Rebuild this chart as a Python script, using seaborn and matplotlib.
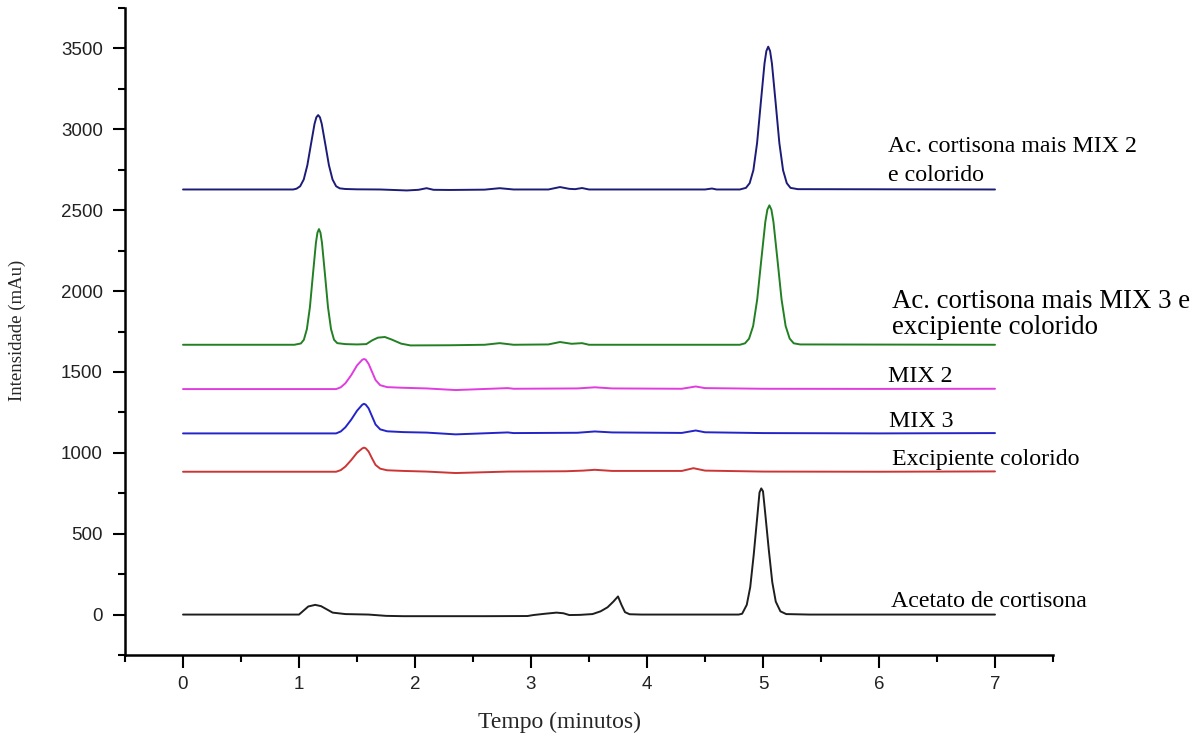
import numpy as np
import pandas as pd
import matplotlib
matplotlib.use("Agg")
import matplotlib.pyplot as plt
from matplotlib.ticker import MultipleLocator
import seaborn as sns

# ---------------- data ----------------
t_acetato = [0.00, 1.00, 1.04, 1.08, 1.14, 1.19, 1.24, 1.29, 1.40, 1.60, 1.75, 1.90, 2.20, 2.60, 2.97,
             3.02, 3.12, 3.22, 3.28, 3.33, 3.42, 3.53, 3.60, 3.66, 3.71, 3.75, 3.78, 3.81, 3.85, 3.95,
             4.40, 4.79, 4.82, 4.86, 4.89, 4.92, 4.95, 4.97, 4.985, 5.00, 5.02, 5.05, 5.08, 5.11, 5.15,
             5.20, 5.40, 7.00]
y_acetato = [0, 0, 25, 50, 60, 52, 32, 12, 3, 0, -8, -10, -10, -10, -9,
             -3, 5, 12, 8, -3, -2, 3, 20, 45, 80, 112, 60, 15, 2, 0,
             0, 0, 5, 60, 170, 370, 600, 755, 780, 762, 620, 400, 200, 80, 20,
             3, 0, 0]

t_excip = [0.00, 1.32, 1.36, 1.40, 1.45, 1.50, 1.545, 1.56, 1.575, 1.60, 1.63, 1.66, 1.70, 1.76, 1.90,
           2.10, 2.35, 2.50, 2.80, 3.30, 3.45, 3.55, 3.70, 4.30, 4.40, 4.50, 5.00, 6.00, 7.00]
y_excip = [883, 883, 893, 915, 955, 1000, 1027, 1032, 1028, 1008, 965, 925, 902, 892, 888,
           884, 875, 878, 884, 886, 890, 895, 888, 888, 905, 890, 884, 883, 885]

t_mix3 = [0.00, 1.32, 1.36, 1.40, 1.45, 1.50, 1.545, 1.56, 1.575, 1.60, 1.63, 1.66, 1.70, 1.76, 1.90,
          2.10, 2.35, 2.50, 2.80, 2.85, 3.40, 3.55, 3.70, 4.30, 4.42, 4.50, 5.00, 6.00, 7.00]
y_mix3 = [1120, 1120, 1132, 1158, 1205, 1260, 1297, 1303, 1298, 1275, 1225, 1175, 1145, 1133, 1128,
          1125, 1114, 1118, 1126, 1122, 1124, 1132, 1126, 1123, 1138, 1127, 1122, 1120, 1122]

t_mix2 = [0.00, 1.32, 1.36, 1.40, 1.45, 1.50, 1.545, 1.56, 1.575, 1.60, 1.63, 1.66, 1.70, 1.76, 1.90,
          2.10, 2.35, 2.50, 2.80, 2.85, 3.40, 3.55, 3.70, 4.30, 4.42, 4.50, 5.00, 6.00, 7.00]
y_mix2 = [1394, 1394, 1405, 1430, 1480, 1540, 1575, 1580, 1576, 1550, 1500, 1450, 1418, 1406, 1402,
          1398, 1388, 1392, 1400, 1396, 1398, 1405, 1398, 1396, 1410, 1400, 1396, 1395, 1396]

t_mix3_exc = [0.00, 0.96, 1.016, 1.042, 1.068, 1.094, 1.12, 1.146, 1.159, 1.172, 1.185, 1.198, 1.224,
              1.25, 1.276, 1.302, 1.33, 1.40, 1.50, 1.58, 1.63, 1.68, 1.74, 1.80, 1.88, 1.96, 2.30,
              2.60, 2.73, 2.85, 3.15, 3.25, 3.35, 3.44, 3.50, 4.80, 4.845, 4.88, 4.915, 4.95, 4.985,
              5.02, 5.0375, 5.055, 5.0725, 5.09, 5.125, 5.16, 5.195, 5.23, 5.265, 5.32, 7.00]
y_mix3_exc = [1668, 1668, 1676, 1699, 1765, 1900, 2102, 2299, 2361, 2383, 2361, 2299, 2102,
              1900, 1765, 1699, 1678, 1672, 1670, 1672, 1695, 1712, 1716, 1700, 1675, 1664, 1665,
              1668, 1678, 1668, 1670, 1685, 1674, 1678, 1668, 1668, 1677, 1706, 1784, 1948, 2191,
              2428, 2503, 2530, 2503, 2428, 2191, 1948, 1784, 1706, 1677, 1670, 1668]

t_mix2_col = [0.00, 0.95, 0.979, 1.01, 1.041, 1.072, 1.103, 1.134, 1.1495, 1.165, 1.1805, 1.196, 1.227,
              1.258, 1.289, 1.32, 1.351, 1.40, 1.50, 1.70, 1.93, 2.03, 2.10, 2.16, 2.30, 2.60, 2.73,
              2.85, 3.15, 3.25, 3.33, 3.38, 3.44, 3.50, 4.50, 4.56, 4.60, 4.80, 4.853, 4.885, 4.917,
              4.949, 4.981, 5.013, 5.029, 5.045, 5.061, 5.077, 5.109, 5.141, 5.173, 5.205, 5.237,
              5.30, 7.00]
y_mix2_col = [2628, 2628, 2633, 2648, 2690, 2778, 2907, 3034, 3074, 3088, 3074, 3034, 2907,
              2778, 2690, 2648, 2635, 2631, 2629, 2628, 2622, 2626, 2636, 2626, 2625, 2627, 2636,
              2628, 2628, 2643, 2632, 2630, 2637, 2628, 2628, 2634, 2628, 2628, 2638, 2667, 2747,
              2915, 3164, 3407, 3484, 3511, 3484, 3407, 3164, 2915, 2747, 2667, 2638,
              2630, 2628]

series_names = ["Acetato de cortisona", "Excipiente colorido", "MIX 3", "MIX 2",
                "Ac. cortisona mais MIX 3 e excipiente colorido",
                "Ac. cortisona mais MIX 2 e colorido"]
series_t = [t_acetato, t_excip, t_mix3, t_mix2, t_mix3_exc, t_mix2_col]
series_y = [y_acetato, y_excip, y_mix3, y_mix2, y_mix3_exc, y_mix2_col]
colors = ["#1e1e1e", "#cc3535", "#2424c8", "#e03ce0", "#228022", "#1c1c78"]

frames = []
for name, t, y in zip(series_names, series_t, series_y):
    frames.append(pd.DataFrame({"tempo": t, "intensidade": y, "amostra": name}))
df = pd.concat(frames, ignore_index=True)

# ---------------- figure ----------------
sns.set_style("ticks")
plt.rcParams["font.family"] = ["Liberation Sans", "DejaVu Sans"]

fig = plt.figure(figsize=(11.99, 7.42), dpi=100)
ax = fig.add_axes([125 / 1199, 1 - 655 / 742, (1053 - 125) / 1199, (655 - 8) / 742])

sns.lineplot(data=df, x="tempo", y="intensidade", hue="amostra", units="amostra",
             estimator=None, sort=False, palette=dict(zip(series_names, colors)),
             linewidth=1.4, legend=False, ax=ax)

ax.set_xlim(-0.5, 7.5)
ax.set_ylim(-250, 3750)
ax.xaxis.set_major_locator(MultipleLocator(1))
ax.xaxis.set_minor_locator(MultipleLocator(0.5))
ax.yaxis.set_major_locator(MultipleLocator(500))
ax.yaxis.set_minor_locator(MultipleLocator(250))
ax.set_xticks(range(0, 8))
ax.set_xticklabels([str(i) for i in range(0, 8)])
sns.despine(ax=ax)
for s in ["left", "bottom"]:
    ax.spines[s].set_linewidth(1.8)
    ax.spines[s].set_color("black")
ax.tick_params(which="major", direction="out", length=9, width=1.5, colors="black",
               labelsize=13.5, labelcolor="#222222")
ax.tick_params(which="minor", direction="out", length=5, width=1.5, colors="black")
ax.tick_params(axis="y", pad=7)
ax.tick_params(axis="x", pad=6)
ax.set_xlabel("")
ax.set_ylabel("")

serif = ["Liberation Serif", "DejaVu Serif"]
fig.text(560 / 1199, 1 - 728 / 742, "Tempo (minutos)", family=serif, fontsize=17,
         ha="center", va="baseline")
fig.text(17 / 1199, 1 - 330 / 742, "Intensidade (mAu)", family=serif, fontsize=13.5,
         ha="center", va="center", rotation=90)

labels = [
    (6.08, 2862, "Ac. cortisona mais MIX 2", 17.2),
    (6.08, 2679, "e colorido", 17.2),
    (6.11, 1894, "Ac. cortisona mais MIX 3 e", 19.4),
    (6.11, 1735, "excipiente colorido", 19.4),
    (6.08, 1436, "MIX 2", 17.2),
    (6.09, 1157, "MIX 3", 17.2),
    (6.11, 923, "Excipiente colorido", 17.2),
    (6.10, 45, "Acetato de cortisona", 17.2),
]
for x, y, txt, fs in labels:
    ax.text(x, y, txt, family=serif, fontsize=fs, ha="left", va="baseline", color="black")

fig.savefig("out.png", dpi=100)
